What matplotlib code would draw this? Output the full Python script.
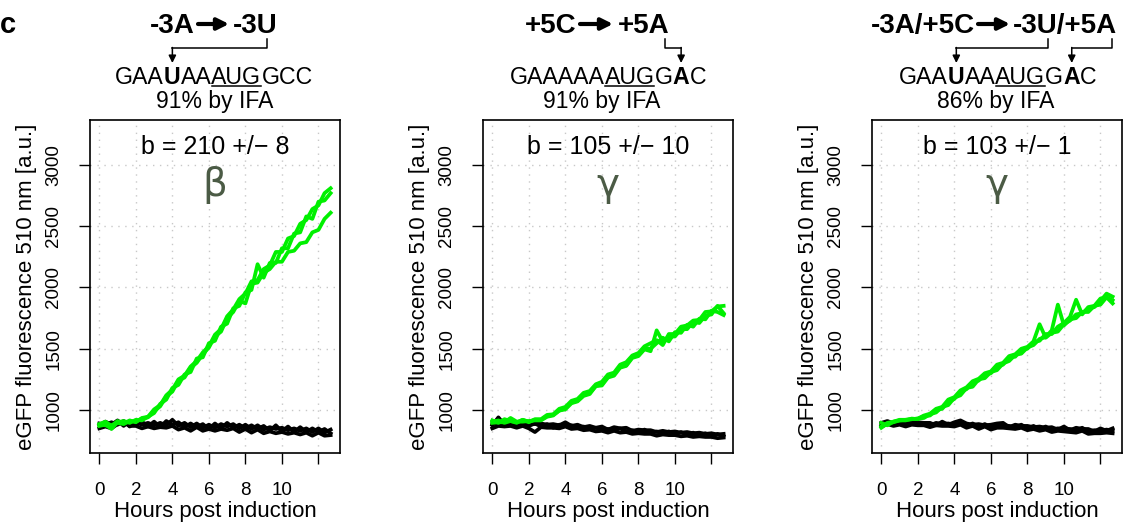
import numpy as np
import matplotlib
matplotlib.use('Agg')
import matplotlib.pyplot as plt
from matplotlib.lines import Line2D
from matplotlib.patches import FancyArrowPatch

plt.rcParams['font.family'] = ['Liberation Sans', 'DejaVu Sans']

# ---------------- data ----------------
hours = np.arange(39) / 3.0   # sampling every 20 min

p1_green_1 = [885, 905, 870, 910, 890, 915, 900, 935, 945, 1005, 1040, 1120, 1165, 1250, 1280, 1355, 1400, 1470, 1520, 1615,
              1660, 1765, 1820, 1905, 1950, 2050, 2060, 2150, 2180, 2290, 2290, 2400, 2420, 2520, 2550, 2640, 2670, 2770, 2810]
p1_green_2 = [870, 880, 845, 900, 910, 895, 920, 915, 945, 975, 1050, 1085, 1180, 1205, 1290, 1310, 1420, 1430, 1545, 1565,
              1680, 1705, 1830, 1850, 1960, 1980, 2190, 2080, 2200, 2200, 2320, 2320, 2440, 2450, 2580, 2560, 2700, 2710, 2770]
p1_green_3 = [880, 875, 875, 895, 885, 910, 905, 930, 940, 990, 1030, 1110, 1150, 1240, 1265, 1345, 1385, 1455, 1510, 1600,
              1640, 1750, 1800, 1890, 1870, 2030, 2040, 2120, 2150, 2210, 2210, 2290, 2300, 2360, 2370, 2450, 2470, 2560, 2610]
p1_black_1 = [875, 905, 880, 915, 870, 910, 880, 905, 865, 905, 860, 910, 880, 900, 860, 890, 860, 885, 845, 890,
              850, 895, 855, 880, 850, 875, 845, 870, 830, 875, 825, 865, 820, 860, 820, 850, 820, 845, 810]
p1_black_2 = [850, 865, 850, 885, 910, 870, 870, 850, 865, 850, 860, 855, 870, 840, 855, 830, 860, 830, 845, 830,
              845, 835, 850, 820, 845, 815, 840, 810, 825, 810, 820, 805, 815, 800, 815, 790, 815, 790, 795]
p1_black_3 = [890, 880, 900, 880, 905, 865, 900, 880, 895, 875, 895, 875, 920, 870, 895, 860, 890, 855, 880, 855,
              885, 865, 885, 850, 880, 845, 875, 840, 860, 845, 855, 835, 850, 830, 850, 820, 850, 815, 840]

p2_green_1 = [915, 895, 925, 910, 895, 920, 900, 925, 925, 960, 965, 1010, 1025, 1075, 1090, 1140, 1155, 1210, 1230, 1290,
              1305, 1370, 1390, 1445, 1465, 1520, 1545, 1570, 1530, 1620, 1620, 1680, 1690, 1730, 1735, 1800, 1805, 1845, 1850]
p2_green_2 = [895, 900, 900, 935, 905, 905, 910, 915, 915, 945, 955, 995, 1005, 1055, 1070, 1115, 1130, 1195, 1200, 1265,
              1280, 1345, 1360, 1425, 1440, 1495, 1480, 1650, 1560, 1600, 1600, 1660, 1660, 1720, 1710, 1770, 1780, 1850, 1790]
p2_green_3 = [905, 915, 895, 910, 900, 920, 905, 920, 920, 950, 960, 995, 1015, 1060, 1075, 1130, 1140, 1195, 1210, 1270,
              1290, 1355, 1365, 1435, 1445, 1505, 1500, 1545, 1590, 1560, 1635, 1630, 1695, 1680, 1745, 1740, 1810, 1800, 1775]
p2_black_1 = [875, 940, 880, 895, 870, 890, 870, 890, 865, 885, 855, 880, 875, 875, 855, 865, 845, 855, 840, 845,
              835, 850, 825, 835, 815, 840, 810, 825, 805, 825, 800, 820, 795, 815, 790, 810, 785, 805, 785]
p2_black_2 = [850, 870, 865, 870, 855, 870, 850, 820, 860, 855, 855, 850, 865, 845, 850, 835, 840, 825, 830, 815,
              830, 815, 820, 805, 810, 805, 805, 790, 800, 795, 795, 785, 790, 780, 785, 780, 780, 770, 775]
p2_black_3 = [890, 880, 900, 875, 895, 890, 895, 885, 890, 880, 885, 875, 900, 870, 880, 860, 870, 855, 865, 840,
              860, 850, 855, 830, 840, 835, 835, 820, 830, 820, 825, 815, 820, 810, 815, 805, 810, 800, 805]

p3_green_1 = [865, 895, 905, 920, 920, 925, 930, 955, 970, 1010, 1025, 1085, 1105, 1160, 1185, 1235, 1255, 1300, 1315, 1370,
              1385, 1440, 1455, 1500, 1515, 1560, 1700, 1590, 1630, 1640, 1700, 1730, 1780, 1790, 1830, 1840, 1890, 1950, 1925]
p3_green_2 = [895, 875, 905, 915, 920, 925, 930, 935, 965, 980, 1025, 1040, 1100, 1120, 1180, 1190, 1250, 1260, 1310, 1325,
              1380, 1400, 1450, 1460, 1510, 1530, 1580, 1595, 1650, 1860, 1690, 1740, 1750, 1800, 1800, 1850, 1860, 1920, 1870]
p3_green_3 = [855, 890, 900, 915, 915, 930, 925, 950, 955, 1000, 1010, 1065, 1090, 1150, 1170, 1225, 1240, 1290, 1300, 1355,
              1370, 1430, 1435, 1490, 1500, 1555, 1565, 1620, 1620, 1680, 1710, 1760, 1900, 1780, 1840, 1850, 1910, 1920, 1895]
p3_black_1 = [895, 910, 890, 900, 880, 900, 890, 895, 875, 895, 885, 890, 880, 905, 870, 890, 865, 885, 860, 880,
              875, 870, 860, 880, 850, 870, 845, 865, 840, 850, 845, 845, 835, 855, 825, 835, 830, 840, 830]
p3_black_2 = [865, 885, 870, 880, 865, 880, 875, 875, 860, 875, 870, 870, 865, 880, 855, 870, 845, 865, 840, 855,
              855, 850, 845, 855, 835, 845, 830, 840, 820, 830, 825, 820, 815, 830, 805, 810, 810, 815, 810]
p3_black_3 = [880, 885, 895, 905, 900, 890, 900, 895, 895, 875, 905, 880, 900, 915, 890, 880, 885, 875, 880, 890,
              895, 860, 880, 870, 870, 860, 865, 855, 860, 840, 865, 835, 855, 845, 845, 825, 850, 830, 850]

xticks = [0, 2, 4, 6, 8, 10, 12]
xtick_labels = ["0", "2", "4", "6", "8", "10", ""]
yticks = [1000, 1500, 2000, 2500, 3000]
ytick_labels = ["1000", "1500", "2000", "2500", "3000"]

b_labels = ["b = 210 +/\u2212 8", "b = 105 +/\u2212 10", "b = 103 +/\u2212 1"]
greek_labels = ["\u03b2", "\u03b3", "\u03b3"]
ifa_labels = ["91% by IFA", "91% by IFA", "86% by IFA"]
mut_from = ["-3A", "+5C", "-3A/+5C"]
mut_to = ["-3U", "+5A", "-3U/+5A"]
# sequences as (text, bold, underlined) pieces
seqs = [
    [("GAA", False, False), ("U", True, False), ("AA", False, False), ("AUG", False, True), ("GCC", False, False)],
    [("GAAAAA", False, False), ("AUG", False, True), ("G", False, False), ("A", True, False), ("C", False, False)],
    [("GAA", False, False), ("U", True, False), ("AA", False, False), ("AUG", False, True), ("G", False, False),
     ("A", True, False), ("C", False, False)],
]

green_sets = [[p1_green_1, p1_green_2, p1_green_3], [p2_green_1, p2_green_2, p2_green_3], [p3_green_1, p3_green_2, p3_green_3]]
black_sets = [[p1_black_1, p1_black_2, p1_black_3], [p2_black_1, p2_black_2, p2_black_3], [p3_black_1, p3_black_2, p3_black_3]]

# ---------------- layout ----------------
W, H = 1138, 522
fig = plt.figure(figsize=(W / 100, H / 100), dpi=100)
renderer = fig.canvas.get_renderer()


def fx(x):
    return x / W


def fy(y):
    return 1 - y / H


axes_px = [(90, 340), (483, 733), (872, 1122)]
top_px, bot_px = 120, 453
GREEN = '#00f000'
GREEK = '#4b5b45'

for i in range(3):
    l, r = axes_px[i]
    ax = fig.add_axes([fx(l), fy(bot_px), (r - l) / W, (bot_px - top_px) / H])
    for k in black_sets[i]:
        ax.plot(hours, k, color='black', lw=2.7, solid_joinstyle='round')
    for g in green_sets[i]:
        ax.plot(hours, g, color=GREEN, lw=2.7, solid_joinstyle='round')
    ax.set_xlim(-0.51, 13.18)
    ax.set_ylim(649, 3367)
    ax.set_xticks(xticks)
    ax.set_xticklabels(xtick_labels)
    ax.set_yticks(yticks)
    ax.set_yticklabels(ytick_labels, rotation=90, va='center')
    ax.grid(True, color='#c8c8c8', linestyle=(0, (1, 4)), linewidth=1.0)
    ax.set_axisbelow(True)
    ax.tick_params(axis='both', direction='out', length=8, width=1.0, labelsize=13.5, colors='black')
    ax.tick_params(axis='x', pad=13)
    ax.tick_params(axis='y', pad=12)
    for s in ax.spines.values():
        s.set_linewidth(1.2)
    ax.set_xlabel("Hours post induction", fontsize=16, labelpad=1)
    ax.set_ylabel("eGFP fluorescence 510 nm [a.u.]", fontsize=16, labelpad=6)
    ax.text(0.5, 0.92, b_labels[i], transform=ax.transAxes, ha='center', va='center', fontsize=18)
    ax.text(0.5, 0.805, greek_labels[i], transform=ax.transAxes, ha='center', va='center', fontsize=28,
            color=GREEK, family=['DejaVu Sans'])

# ---------------- headers ----------------
fig.text(fx(0), fy(33), "c", fontsize=21, fontweight='bold', ha='left', va='baseline')

head_pos = [  # (right edge of "from", arrow start, arrow end, left edge of "to")
    (195, 198, 229, 233),
    (577, 580, 613, 618),
    (975, 978, 1010, 1013),
]
for i in range(3):
    xr, a0, a1, xl = head_pos[i]
    fig.text(fx(xr), fy(33), mut_from[i], fontsize=20, fontweight='bold', ha='right', va='baseline')
    fig.text(fx(xl), fy(33), mut_to[i], fontsize=20, fontweight='bold', ha='left', va='baseline')
    fig.add_artist(FancyArrowPatch((fx(a0), fy(24)), (fx(a1), fy(24)), transform=fig.transFigure,
                                   arrowstyle='-|>', mutation_scale=17, lw=3, color='black',
                                   shrinkA=0, shrinkB=0))


def seq_text(pieces, xc, ybase, size):
    objs = []
    widths = []
    for txt, bold, ul in pieces:
        t = fig.text(0, fy(ybase), txt, fontsize=size, fontweight='bold' if bold else 'normal',
                     ha='left', va='baseline')
        w = t.get_window_extent(renderer).width
        objs.append(t)
        widths.append(w)
    total = sum(widths)
    x = xc - total / 2
    centers = []
    for (txt, bold, ul), t, w in zip(pieces, objs, widths):
        t.set_x(fx(x))
        if ul:
            fig.add_artist(Line2D([fx(x + 0.5), fx(x + w - 0.5)], [fy(ybase + 1.8), fy(ybase + 1.8)],
                                  transform=fig.transFigure, color='black', lw=1.1))
        centers.append((txt, bold, x + w / 2))
        x += w
    return [c for (txt, bold, c) in centers if bold]


seq_centers = [214, 608, 998]
ifa_centers = [215, 602, 996]
bold_centers = []
for i in range(3):
    bc = seq_text(seqs[i], seq_centers[i], 84, 16.7)
    bold_centers.append(bc)
    fig.text(fx(ifa_centers[i]), fy(108), ifa_labels[i], fontsize=16.5, ha='center', va='baseline')

# bent arrows: (start x under header letter, target x)
bent = [
    [(267, bold_centers[0][0])],
    [(665, bold_centers[1][0])],
    [(1048, bold_centers[2][0]), (1112, bold_centers[2][1])],
]
for arrows in bent:
    for xs, xt in arrows:
        fig.add_artist(Line2D([fx(xs), fx(xs), fx(xt)], [fy(39), fy(47.5), fy(47.5)],
                              transform=fig.transFigure, color='black', lw=1.1))
        fig.add_artist(FancyArrowPatch((fx(xt), fy(47.5)), (fx(xt), fy(63)), transform=fig.transFigure,
                                       arrowstyle='-|>', mutation_scale=11, lw=1.1, color='black',
                                       shrinkA=0, shrinkB=0))

fig.savefig('out.png', dpi=100)
